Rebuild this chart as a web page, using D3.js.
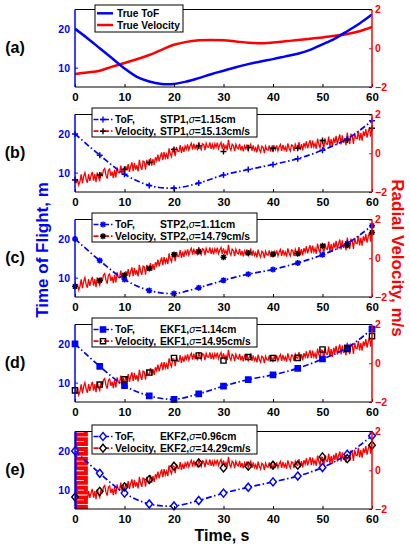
<!DOCTYPE html>
<meta charset="utf-8">
<script src="https://d3js.org/d3.v7.min.js"></script>
<style>
  body { margin: 0; background: #fff; }
  text { font-family: "Liberation Sans", Arial, sans-serif; font-weight: bold; }
</style>
<svg id="chart" width="410" height="550"></svg>
<script>
// ---- data ----
const xTicks = [0, 10, 20, 30, 40, 50, 60];
const tofTicks = [10, 20];
const velTicks = [-2, 0, 2];

// true signals (panel a), every 2.5 s
const trueTime = [0, 2.5, 5, 7.5, 10, 12.5, 15, 17.5, 20, 22.5, 25, 27.5, 30, 32.5, 35, 37.5, 40, 42.5, 45, 47.5, 50, 52.5, 55, 57.5, 60];
const trueTof = [20, 17.6, 15.0, 12.4, 9.8, 7.6, 6.4, 5.8, 5.8, 6.4, 7.3, 8.3, 9.2, 10.1, 10.9, 11.6, 12.2, 12.9, 13.6, 14.6, 16.0, 17.5, 19.4, 21.4, 23.7];
const trueVel = [-1.33, -1.25, -1.16, -0.95, -0.76, -0.57, -0.35, -0.08, 0.18, 0.33, 0.41, 0.43, 0.41, 0.35, 0.29, 0.26, 0.30, 0.36, 0.42, 0.49, 0.56, 0.64, 0.74, 0.88, 1.10];

// filter estimates, markers every 5 s
const markTime = [0, 5, 10, 15, 20, 25, 30, 35, 40, 45, 50, 55, 60];
const tofSTP1 = [20, 14.5, 9.6, 6.7, 6.0, 7.3, 9.4, 10.8, 12.1, 13.6, 15.8, 18.7, 23.4];
const velSTP1 = [-1.38, -1.12, -0.83, -0.48, 0.20, 0.38, 0.09, 0.29, 0.26, 0.26, 0.66, 0.69, 1.29];
const tofSTP2 = [20, 14.4, 9.5, 6.7, 5.9, 7.4, 9.3, 10.9, 12.1, 13.8, 15.9, 18.8, 23.4];
const velSTP2 = [-1.45, -1.15, -0.88, -0.53, 0.19, 0.35, 0.05, 0.27, 0.21, 0.23, 0.64, 0.67, 1.33];
const tofEKF1 = [20, 14.2, 9.2, 6.6, 5.7, 7.1, 9.1, 10.8, 12.0, 13.7, 16.1, 19.0, 23.8];
const velEKF1 = [-1.40, -1.10, -0.83, -0.48, 0.27, 0.40, 0.14, 0.32, 0.27, 0.28, 0.71, 0.74, 1.40];
const tofEKF2 = [20, 14.2, 9.1, 6.3, 5.8, 7.2, 9.1, 10.6, 12.0, 13.5, 15.7, 19.1, 23.9];
const velEKF2 = [-1.38, -1.09, -0.86, -0.48, 0.21, 0.38, 0.12, 0.21, 0.26, 0.26, 0.69, 0.60, 1.29];

// noisy velocity estimate, sampled every 0.25 s (one row per second)
const velTime = d3.range(0, 60.001, 0.25);
const velNoisy = [
  -1.18, -1.54, -1.33, -1.64,  -1.45, -1.09, -1.55, -1.19,  -1.00, -1.34, -1.52, -1.08,
  -1.43, -1.16, -0.96, -1.41,  -1.08, -1.49, -0.99, -1.24,  -1.40, -0.98, -1.20, -0.87,
  -0.79, -1.13, -1.31, -0.87,  -0.81, -1.17, -0.95, -1.29,  -0.85, -1.25, -0.73, -0.98,
  -1.01, -0.64, -1.07, -0.75,  -1.10, -0.67, -0.88, -0.56,  -0.96, -0.68, -0.47, -0.92,
  -0.49, -0.84, -0.62, -0.94,  -0.34, -0.67, -0.86, -0.41,  -0.45, -0.85, -0.34, -0.59,
  -0.59, -0.25, -0.64, -0.30,  -0.60, -0.21, -0.39, -0.07,  -0.42, -0.16, 0.04, -0.35,
  0.06, -0.24, -0.04, -0.30,  0.25, -0.03, -0.18, 0.23,  0.21, -0.15, 0.32, 0.11,
  0.09, 0.42, 0.02, 0.34,  0.07, 0.37, 0.21, 0.46,  0.17, 0.37, 0.51, 0.19,
  0.49, 0.24, 0.39, 0.15,  0.57, 0.32, 0.18, 0.49,  0.45, 0.16, 0.51, 0.33,
  0.31, 0.56, 0.23, 0.46,  0.20, 0.49, 0.32, 0.55,  0.24, 0.43, 0.56, 0.23,
  0.51, 0.25, 0.40, 0.16,  0.69, 0.30, 0.16, 0.47,  0.40, 0.11, 0.46, 0.28,
  0.23, 0.48, 0.15, 0.38,  0.10, 0.39, 0.22, 0.45,  0.14, 0.33, 0.46, 0.13,
  0.40, 0.14, 0.29, 0.05,  0.44, 0.19, 0.05, 0.36,  0.30, 0.01, 0.36, 0.18,
  0.16, 0.41, 0.08, 0.31,  0.06, 0.35, 0.18, 0.41,  0.13, 0.32, 0.45, 0.12,
  0.43, 0.17, 0.32, 0.08,  0.51, 0.26, 0.12, 0.43,  0.40, 0.11, 0.46, 0.28,
  0.25, 0.57, 0.16, 0.47,  0.15, 0.52, 0.32, 0.62,  0.25, 0.49, 0.67, 0.26,
  0.65, 0.33, 0.51, 0.23,  0.76, 0.46, 0.29, 0.68,  0.66, 0.21, 0.77, 0.49,
  0.46, 0.86, 0.35, 0.73,  0.33, 0.80, 0.54, 0.90,  0.45, 0.75, 0.97, 0.46,
  0.93, 0.53, 0.77, 0.41,  1.06, 0.69, 0.48, 0.98,  0.92, 0.48, 1.05, 0.77,
  0.75, 1.16, 0.66, 1.04,  0.65, 1.13, 0.88, 1.25,  0.81, 1.12, 1.35, 0.86,
  1.35];

// EKF2 start-up transient (velocity swings over the first ~2.4 s)
const burstTime = [0.1, 2.2];
const burstVel = [2.1, 1.85, 1.6, 1.35, 1.1, 0.85, 0.6, 0.35, 0.1, -0.15, -0.4, -0.65, -0.9, -1.15, -1.4, -1.65, -1.9, -2.15];

const panelLabels = ["(a)", "(b)", "(c)", "(d)", "(e)"];
const filterNames = ["STP1", "STP2", "EKF1", "EKF2"];
const tofSigma = ["1.15cm", "1.11cm", "1.14cm", "0.96cm"];
const velSigma = ["15.13cm/s", "14.79cm/s", "14.95cm/s", "14.29cm/s"];
const tofEst = [tofSTP1, tofSTP2, tofEKF1, tofEKF2];
const velEst = [velSTP1, velSTP2, velEKF1, velEKF2];

// ---- layout ----
const blue = "#0000ff", red = "#ff0000";
const xLeft = 75, xRight = 372;
const panelTops = [9.5, 114.5, 219.5, 324.5, 431.5];
const panelH = 77.5;
const markerKinds = ["plus", "star", "square", "diamond"];

const svg = d3.select("#chart");
const x = d3.scaleLinear().domain([0, 60]).range([xLeft, xRight]);
const intFmt = d3.format("d");

function markerPath(kind) {
  if (kind === "plus") return "M-3,0H3M0,-3V3";
  if (kind === "star") return "M-3,0H3M0,-3V3M-2.2,-2.2L2.2,2.2M-2.2,2.2L2.2,-2.2";
  if (kind === "square") return "M-2.6,-2.6H2.6V2.6H-2.6Z";
  return "M0,-4L3.3,0L0,4L-3.3,0Z";
}

function styleAxis(sel, color, size) {
  sel.select(".domain").remove();
  sel.selectAll(".tick line").attr("stroke", color).attr("stroke-width", 1);
  sel.selectAll(".tick text")
    .attr("fill", color)
    .style("font-size", size + "px")
    .style("font-family", "'Liberation Sans', Arial, sans-serif")
    .style("font-weight", "bold");
}

panelTops.forEach((top, i) => {
  const bot = top + panelH;
  const yL = d3.scaleLinear().domain([5, 25]).range([bot, top]);
  const yR = d3.scaleLinear().domain([-2, 2]).range([bot, top]);
  const g = svg.append("g");

  svg.append("clipPath").attr("id", "clip" + i)
    .append("rect").attr("x", xLeft).attr("y", top)
    .attr("width", xRight - xLeft).attr("height", panelH);
  const plot = g.append("g").attr("clip-path", `url(#clip${i})`);

  if (i === 0) {
    // true velocity and true ToF
    plot.append("path")
      .attr("d", d3.line().curve(d3.curveCatmullRom).x((d, k) => x(trueTime[k])).y(d => yR(d))(trueVel))
      .attr("fill", "none").attr("stroke", red).attr("stroke-width", 2.5);
    plot.append("path")
      .attr("d", d3.line().curve(d3.curveCatmullRom).x((d, k) => x(trueTime[k])).y(d => yL(d))(trueTof))
      .attr("fill", "none").attr("stroke", blue).attr("stroke-width", 2.5);
  } else {
    const f = i - 1;
    const kind = markerKinds[f];
    let tStart = 0;

    if (f === 3) {
      // start-up swing of EKF2 velocity: back and forth across the first seconds
      const pts = [];
      burstVel.forEach((v, k) => {
        const a = k % 2 === 0 ? burstTime[0] : burstTime[1];
        const b = k % 2 === 0 ? burstTime[1] : burstTime[0];
        pts.push([x(a), yR(v)], [x(b), yR(v)]);
      });
      plot.append("path").attr("d", d3.line()(pts))
        .attr("fill", "none").attr("stroke", red).attr("stroke-width", 4);
      plot.append("line")
        .attr("x1", x(0.1)).attr("x2", x(0.1)).attr("y1", yL(25)).attr("y2", yL(5))
        .attr("stroke", blue).attr("stroke-width", 2);
      tStart = 2.5;
    }

    // noisy velocity estimate
    const noisyIdx = velTime.map((t, k) => k).filter(k => velTime[k] >= tStart);
    plot.append("path")
      .attr("d", d3.line().x(k => x(velTime[k])).y(k => yR(velNoisy[k]))(noisyIdx))
      .attr("fill", "none").attr("stroke", red).attr("stroke-width", 1.3);

    // ToF estimate
    plot.append("path")
      .attr("d", d3.line().curve(d3.curveCatmullRom).x((d, k) => x(markTime[k])).y(d => yL(d))(tofEst[f]))
      .attr("fill", "none").attr("stroke", blue).attr("stroke-width", 1.7)
      .attr("stroke-dasharray", "6,2.5,1.5,2.5");

    // markers
    g.selectAll(".tofMark").data(tofEst[f]).join("path")
      .attr("transform", (d, k) => `translate(${x(markTime[k])},${yL(d)})`)
      .attr("d", markerPath(kind))
      .attr("fill", kind === "square" ? blue : (kind === "diamond" ? "white" : "none"))
      .attr("stroke", blue).attr("stroke-width", 1.5);
    g.selectAll(".velMark").data(velEst[f]).join("path")
      .attr("transform", (d, k) => `translate(${x(markTime[k])},${yR(d)})`)
      .attr("d", markerPath(kind))
      .attr("fill", "none")
      .attr("stroke", "black").attr("stroke-width", 1.4);
  }

  // axes
  g.append("g").attr("transform", `translate(0,${bot})`)
    .call(d3.axisBottom(x).tickValues(xTicks).tickFormat(intFmt).tickSize(-3).tickPadding(6))
    .call(s => styleAxis(s, "black", 11.5));
  g.append("g").attr("transform", `translate(${xLeft},0)`)
    .call(d3.axisLeft(yL).tickValues(tofTicks).tickFormat(intFmt).tickSize(-3).tickPadding(5))
    .call(s => styleAxis(s, blue, 10.5));
  g.append("g").attr("transform", `translate(${xRight},0)`)
    .call(d3.axisRight(yR).tickValues(velTicks).tickFormat(intFmt).tickSize(-3).tickPadding(3))
    .call(s => styleAxis(s, red, 10.5));

  // box
  g.append("line").attr("x1", xLeft).attr("x2", xRight).attr("y1", top).attr("y2", top).attr("stroke", "black");
  g.append("line").attr("x1", xLeft).attr("x2", xRight).attr("y1", bot).attr("y2", bot).attr("stroke", "black");
  g.append("line").attr("x1", xLeft).attr("x2", xLeft).attr("y1", top).attr("y2", bot).attr("stroke", blue).attr("stroke-width", 1.5);
  g.append("line").attr("x1", xRight).attr("x2", xRight).attr("y1", top).attr("y2", bot).attr("stroke", red).attr("stroke-width", 1.5);

  // panel label
  g.append("text").attr("x", 15).attr("y", (top + bot) / 2 + 5)
    .attr("text-anchor", "middle").style("font-size", "16px").text(panelLabels[i]);

  // legend
  const lg = g.append("g");
  if (i === 0) {
    const ly = top - 4.5;
    lg.append("rect").attr("x", 95).attr("y", ly).attr("width", 88).attr("height", 27)
      .attr("fill", "white").attr("stroke", "black");
    [["True ToF", blue], ["True Velocity", red]].forEach(([label, c], r) => {
      const cy = ly + 8.3 + r * 11.7;
      lg.append("line").attr("x1", 97).attr("x2", 113).attr("y1", cy).attr("y2", cy)
        .attr("stroke", c).attr("stroke-width", 2.5);
      lg.append("text").attr("x", 117).attr("y", cy + 3.6).style("font-size", "10.2px").text(label);
    });
  } else {
    const f = i - 1;
    const ly = top - 6.5;
    lg.append("rect").attr("x", 92).attr("y", ly).attr("width", 165).attr("height", 29)
      .attr("fill", "white").attr("stroke", "black");
    [["ToF,", tofSigma[f], blue, blue], ["Velocity,", velSigma[f], red, "black"]].forEach(([label, sig, c, mc], r) => {
      const cy = ly + 11.5 + r * 11.7;
      lg.append("line").attr("x1", 93.5).attr("x2", 113).attr("y1", cy).attr("y2", cy)
        .attr("stroke", c).attr("stroke-width", 1.7).attr("stroke-dasharray", "5,2,1.5,2");
      lg.append("path").attr("transform", `translate(103,${cy})`).attr("d", markerPath(markerKinds[f]))
        .attr("fill", markerKinds[f] === "square" && r === 0 ? blue : (markerKinds[f] === "diamond" ? "white" : "none"))
        .attr("stroke", mc).attr("stroke-width", 1.4);
      const t = lg.append("text").attr("x", 115).attr("y", cy + 3.7).style("font-size", "10.3px");
      t.append("tspan").text(label);
      t.append("tspan").attr("x", 160).text(filterNames[f] + ",");
      t.append("tspan").style("font-style", "italic").style("font-weight", "normal").text("σ");
      t.append("tspan").text("=" + sig);
    });
  }
});

// axis titles
svg.append("text").attr("transform", "translate(48,250) rotate(-90)")
  .attr("text-anchor", "middle").attr("fill", blue).style("font-size", "17px").text("Time of Flight, m");
svg.append("text").attr("transform", "translate(392,258) rotate(90)")
  .attr("text-anchor", "middle").attr("fill", red).style("font-size", "17px").text("Radial Velocity, m/s");
svg.append("text").attr("x", 222).attr("y", 541)
  .attr("text-anchor", "middle").style("font-size", "16px").text("Time, s");
</script>
